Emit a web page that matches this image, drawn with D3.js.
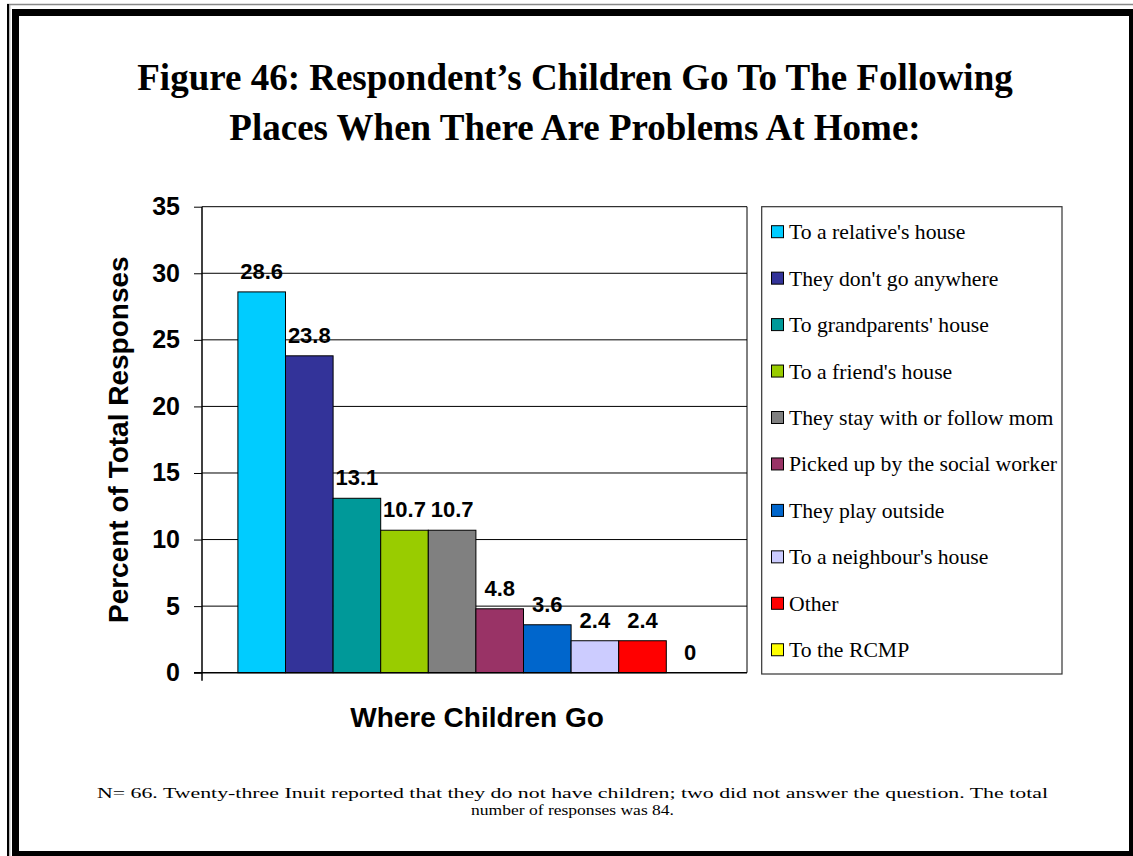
<!DOCTYPE html>
<html>
<head>
<meta charset="utf-8">
<script src="https://cdn.jsdelivr.net/npm/d3@7"></script>
<style>
  html, body { margin: 0; padding: 0; background: #fff; }
  svg { display: block; }
</style>
</head>
<body>
<svg id="chart" width="1133" height="856"></svg>
<script>
const categories = [
  "To a relative's house",
  "They don't go anywhere",
  "To grandparents' house",
  "To a friend's house",
  "They stay with or follow mom",
  "Picked up by the social worker",
  "They play outside",
  "To a neighbour's house",
  "Other",
  "To the RCMP"
];
const values = [28.6, 23.8, 13.1, 10.7, 10.7, 4.8, 3.6, 2.4, 2.4, 0];
const colors = ["#00CCFF", "#333399", "#009999", "#99CC00", "#808080", "#993366", "#0066CC", "#CCCCFF", "#FF0000", "#FFFF00"];
const yTicks = [0, 5, 10, 15, 20, 25, 30, 35];
const titleLines = [
  "Figure 46: Respondent\u2019s Children Go To The Following",
  "Places When There Are Problems At Home:"
];
const noteLines = [
  "N= 66. Twenty-three Inuit reported that they do not have children; two did not answer the question.  The total",
  "number of responses was 84."
];

const svg = d3.select("#chart");

// Page border (double line)
const W = 1133, H = 856;
svg.append("line").attr("x1", 7).attr("x2", W).attr("y1", 4.5).attr("y2", 4.5).attr("stroke", "#888").attr("stroke-width", 1.5);
svg.append("line").attr("x1", 8).attr("x2", 8).attr("y1", 4).attr("y2", H).attr("stroke", "#000").attr("stroke-width", 2);
svg.append("line").attr("x1", 9.8).attr("x2", 9.8).attr("y1", 5).attr("y2", H).attr("stroke", "#999").attr("stroke-width", 1);
svg.append("rect").attr("x", 12).attr("y", 9).attr("width", 7).attr("height", 843).attr("fill", "#000");
svg.append("rect").attr("x", 12).attr("y", 9).attr("width", W - 12).attr("height", 7).attr("fill", "#000");
svg.append("rect").attr("x", 1129).attr("y", 9).attr("width", 4).attr("height", 847).attr("fill", "#000");
svg.append("rect").attr("x", 12).attr("y", 851).attr("width", W - 12).attr("height", 5).attr("fill", "#000");

// Title
svg.append("g").selectAll("text").data(titleLines).join("text")
  .attr("x", 575)
  .attr("y", (d, i) => 90 + i * 50)
  .attr("text-anchor", "middle")
  .attr("font-family", "'Liberation Serif', 'Times New Roman', serif")
  .attr("font-weight", "bold")
  .attr("font-size", 37)
  .attr("fill", "#000")
  .text(d => d);

// Plot area
const plot = { left: 202, right: 747, top: 206.7, bottom: 672.7 };
const y = d3.scaleLinear().domain([0, 35]).range([plot.bottom, plot.top]);
const x = d3.scaleBand().domain(categories).range([237.9, 237.9 + 47.6 * 10]).padding(0);

// gridlines
svg.append("g").selectAll("line").data(yTicks.filter(t => t > 0)).join("line")
  .attr("x1", plot.left).attr("x2", plot.right)
  .attr("y1", d => y(d)).attr("y2", d => y(d))
  .attr("stroke", "#000").attr("stroke-width", 1);
// right border of plot
svg.append("line").attr("x1", plot.right).attr("x2", plot.right)
  .attr("y1", plot.top).attr("y2", plot.bottom).attr("stroke", "#000").attr("stroke-width", 1);

// bars
svg.append("g").selectAll("rect").data(values).join("rect")
  .attr("x", (d, i) => x(categories[i]))
  .attr("y", d => y(d))
  .attr("width", x.bandwidth())
  .attr("height", d => plot.bottom - y(d))
  .attr("fill", (d, i) => colors[i])
  .attr("stroke", "#000")
  .attr("stroke-width", d => d > 0 ? 1 : 0);

// value labels
svg.append("g").selectAll("text").data(values).join("text")
  .attr("x", (d, i) => x(categories[i]) + x.bandwidth() / 2)
  .attr("y", d => y(d) - 13)
  .attr("text-anchor", "middle")
  .attr("font-family", "'Liberation Sans', Arial, sans-serif")
  .attr("font-weight", "bold")
  .attr("font-size", 22)
  .text(d => d);

// y axis
const yAxis = d3.axisLeft(y).tickValues(yTicks).tickSize(8).tickPadding(14).tickFormat(d3.format("d"));
const gy = svg.append("g").attr("transform", `translate(${plot.left},0)`).call(yAxis);
gy.select(".domain").remove();
gy.selectAll(".tick line").attr("stroke", "#000");
gy.selectAll(".tick text")
  .attr("font-family", "'Liberation Sans', Arial, sans-serif")
  .attr("font-weight", "bold")
  .attr("font-size", 25)
  .attr("fill", "#000");
svg.append("line").attr("x1", plot.left).attr("x2", plot.left)
  .attr("y1", plot.top).attr("y2", plot.bottom + 8).attr("stroke", "#000").attr("stroke-width", 1.5);
// x axis
svg.append("line").attr("x1", plot.left - 8).attr("x2", plot.right)
  .attr("y1", plot.bottom).attr("y2", plot.bottom).attr("stroke", "#000").attr("stroke-width", 1.5);

// axis titles
svg.append("text")
  .attr("transform", `translate(128,${(plot.top + plot.bottom) / 2}) rotate(-90)`)
  .attr("text-anchor", "middle")
  .attr("font-family", "'Liberation Sans', Arial, sans-serif")
  .attr("font-weight", "bold")
  .attr("font-size", 28)
  .text("Percent of Total Responses");
svg.append("text")
  .attr("x", 477).attr("y", 727)
  .attr("text-anchor", "middle")
  .attr("font-family", "'Liberation Sans', Arial, sans-serif")
  .attr("font-weight", "bold")
  .attr("font-size", 28)
  .text("Where Children Go");

// legend
const lg = { x: 761.7, y: 206.7, w: 300.3, h: 467.3 };
svg.append("rect").attr("x", lg.x).attr("y", lg.y).attr("width", lg.w).attr("height", lg.h)
  .attr("fill", "#fff").attr("stroke", "#333").attr("stroke-width", 1.2);
const legItems = svg.append("g").selectAll("g").data(categories).join("g")
  .attr("transform", (d, i) => `translate(771.5,${231.7 + i * 46.45})`);
legItems.append("rect").attr("x", 0).attr("y", -6).attr("width", 12).attr("height", 12)
  .attr("fill", (d, i) => colors[i]).attr("stroke", "#000").attr("stroke-width", 1);
legItems.append("text").attr("x", 17.5).attr("y", 7.5)
  .attr("font-family", "'Liberation Serif', 'Times New Roman', serif")
  .attr("font-size", 21.7)
  .text(d => d);

// footnote (first line justified to full width)
const noteWidths = [951, 203];
svg.append("g").selectAll("text").data(noteLines).join("text")
  .attr("x", 572.5)
  .attr("y", (d, i) => 798 + i * 17)
  .attr("text-anchor", "middle")
  .attr("font-family", "'Liberation Serif', 'Times New Roman', serif")
  .attr("font-size", 15.5)
  .attr("textLength", (d, i) => noteWidths[i])
  .attr("lengthAdjust", "spacingAndGlyphs")
  .text(d => d);
</script>
</body>
</html>
